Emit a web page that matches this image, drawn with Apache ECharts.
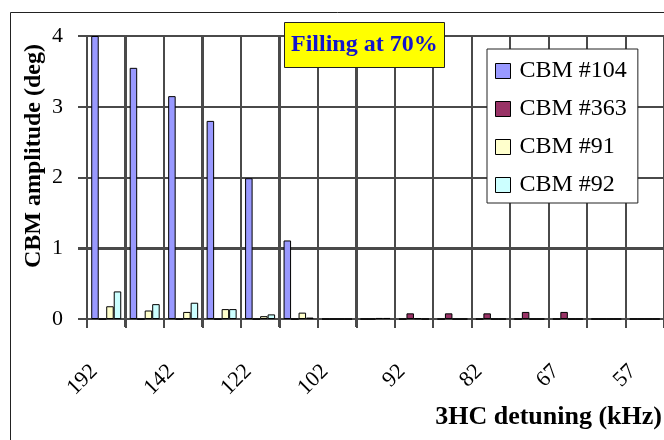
<!DOCTYPE html>
<html>
<head>
<meta charset="utf-8">
<script src="https://cdn.jsdelivr.net/npm/echarts@6/dist/echarts.min.js"></script>
<style>
html,body{margin:0;padding:0;background:#fff;}
#c{width:664px;height:440px;}
</style>
</head>
<body>
<div id="c"></div>
<script>
var categories = ['192','162','142','132','122','112','102','97','92','87','82','72','67','62','57'];
var cbm104 = [4.0, 3.55, 3.15, 2.8, 1.99, 1.11, 0, 0, 0, 0, 0, 0, 0, 0, 0];
var cbm363 = [0, 0, 0, 0, 0, 0, 0, 0, 0.08, 0.08, 0.08, 0.1, 0.1, 0, 0];
var cbm91  = [0.18, 0.12, 0.1, 0.14, 0.04, 0.09, 0, 0.015, 0.01, 0, 0, 0, 0, 0, 0];
var cbm92  = [0.39, 0.21, 0.23, 0.14, 0.065, 0.02, 0, 0.015, 0, 0, 0, 0, 0, 0, 0];
var seriesNames = ['CBM #104', 'CBM #363', 'CBM #91', 'CBM #92'];
var yTicks = [0, 1, 2, 3, 4];

var colors = ['#9999ff', '#993366', '#ffffcc', '#ccffff'];
var serif = 'Liberation Serif';
var lineCol = '#4a4a4a';
var lineW = 2;
var tickLen = 9;

var chart = echarts.init(document.getElementById('c'));
function bar(name, data, color) {
  return {
    name: name, type: 'bar', data: data, z: 3,
    barGap: '0%', barCategoryGap: '22%',
    itemStyle: {color: color, borderColor: '#000', borderWidth: 1}
  };
}
var baseGraphics = [{
  type: 'rect', left: 8, top: 10, silent: true,
  shape: {x: 0, y: 0, width: 700, height: 500},
  style: {fill: 'none', stroke: '#222', lineWidth: 1}
}, {
  type: 'text', x: 34, y: 156, rotation: Math.PI / 2, silent: true,
  style: {text: 'CBM amplitude (deg)', font: 'bold 24px "Liberation Serif"', fill: '#000',
    align: 'center', verticalAlign: 'middle'}
}];
chart.setOption({
  animation: false,
  graphic: baseGraphics,
  title: [{
    text: 'Filling at 70%',
    left: 284, top: 22,
    padding: [11, 7, 11, 7],
    backgroundColor: '#ffff00',
    borderColor: '#222', borderWidth: 1,
    textStyle: {fontFamily: serif, fontWeight: 'bold', fontSize: 24, color: '#1414cc'}
  }, {
    text: '3HC detuning (kHz)',
    right: 2, top: 404, padding: 0,
    textStyle: {fontFamily: serif, fontWeight: 'bold', fontSize: 26, color: '#000'}
  }],
  legend: {
    orient: 'vertical',
    left: 487, top: 49,
    padding: [10, 11, 6, 8],
    itemGap: 14,
    itemWidth: 15, itemHeight: 15,
    backgroundColor: '#fff',
    borderColor: '#222', borderWidth: 1,
    icon: 'rect', z: 20,
    itemStyle: {borderColor: '#000', borderWidth: 1},
    textStyle: {fontFamily: serif, fontSize: 24, color: '#000', padding: [0, 0, 0, 4]},
    data: seriesNames
  },
  grid: {left: 87, top: 36, right: -4, bottom: 121},
  xAxis: {
    type: 'category', data: categories,
    axisLine: {show: true, lineStyle: {color: lineCol, width: lineW}},
    axisTick: {show: true, interval: 0, length: tickLen, lineStyle: {color: lineCol, width: lineW}},
    splitLine: {show: true, interval: 0, lineStyle: {color: lineCol, width: lineW}},
    axisLabel: {
      interval: 1, rotate: 45, margin: 37, padding: [0, 17, 0, 0],
      fontFamily: serif, fontSize: 22, color: '#000'
    }
  },
  yAxis: {
    type: 'value', min: yTicks[0], max: yTicks[yTicks.length - 1], interval: 1,
    axisLine: {show: true, lineStyle: {color: lineCol, width: lineW}},
    axisTick: {show: true, length: tickLen, lineStyle: {color: lineCol, width: lineW}},
    splitLine: {show: true, lineStyle: {color: lineCol, width: lineW}},
    axisLabel: {margin: 24, fontFamily: serif, fontSize: 22, color: '#000'}
  },
  series: [
    bar(seriesNames[0], cbm104, colors[0]),
    bar(seriesNames[1], cbm363, colors[1]),
    bar(seriesNames[2], cbm91, colors[2]),
    bar(seriesNames[3], cbm92, colors[3])
  ]
});

// Grid lines also laid as graphic rects, positioned through the axes' own scales
var n = categories.length;
var c0 = chart.convertToPixel({xAxisIndex: 0}, 0);
var c1 = chart.convertToPixel({xAxisIndex: 0}, 1);
var band = c1 - c0;
var xStart = c0 - band / 2;
var xEnd = xStart + n * band;
var yTop = Math.round(chart.convertToPixel({yAxisIndex: 0}, yTicks[yTicks.length - 1]));
var yBot = Math.round(chart.convertToPixel({yAxisIndex: 0}, yTicks[0]));
var gridGraphics = [];
yTicks.forEach(function (v) {
  var y = Math.round(chart.convertToPixel({yAxisIndex: 0}, v));
  gridGraphics.push({type: 'rect', silent: true, z: 1,
    shape: {x: Math.round(xStart) - tickLen, y: y - lineW / 2, width: xEnd - xStart + tickLen + 20, height: lineW},
    style: {fill: lineCol}});
});
for (var i = 0; i <= n; i++) {
  var x = Math.round(xStart + i * band);
  gridGraphics.push({type: 'rect', silent: true, z: 1,
    shape: {x: x - lineW / 2, y: yTop - lineW / 2, width: lineW, height: yBot - yTop + tickLen},
    style: {fill: lineCol}});
}
chart.setOption({graphic: baseGraphics.concat(gridGraphics)});
</script>
</body>
</html>
